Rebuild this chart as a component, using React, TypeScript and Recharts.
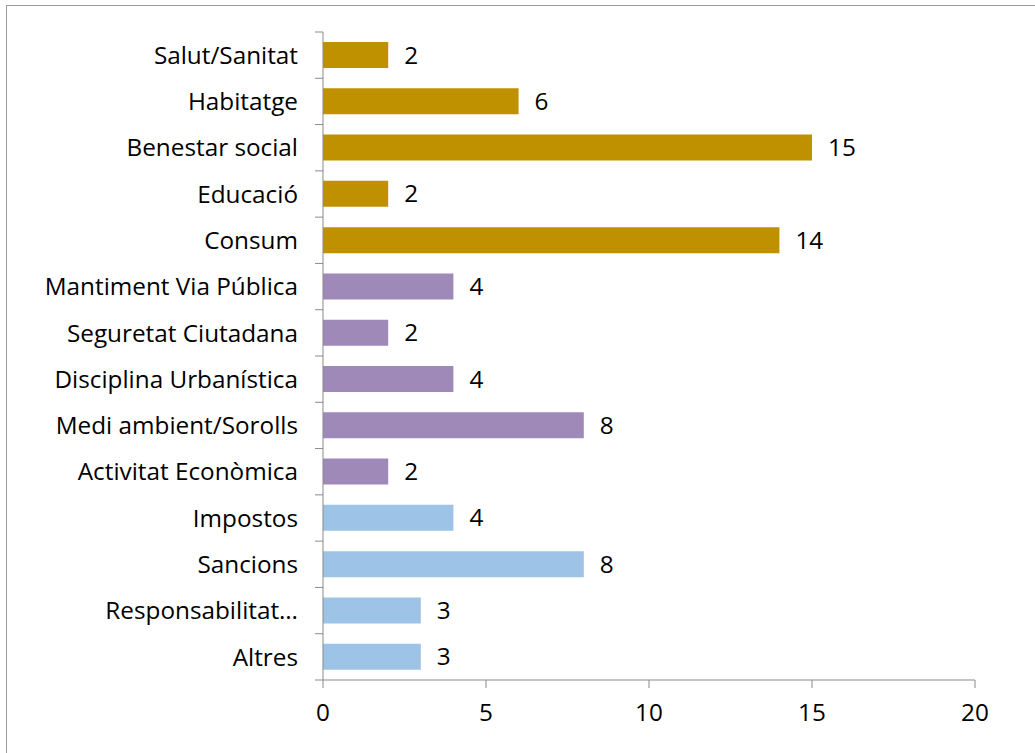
import React from "react";
import { BarChart, Bar, XAxis, YAxis, Cell, LabelList } from "recharts";

const categories = [
  "Salut/Sanitat",
  "Habitatge",
  "Benestar social",
  "Educació",
  "Consum",
  "Mantiment Via Pública",
  "Seguretat Ciutadana",
  "Disciplina Urbanística",
  "Medi ambient/Sorolls",
  "Activitat Econòmica",
  "Impostos",
  "Sancions",
  "Responsabilitat…",
  "Altres",
];
const values = [2, 6, 15, 2, 14, 4, 2, 4, 8, 2, 4, 8, 3, 3];
const groups = [0, 0, 0, 0, 0, 1, 1, 1, 1, 1, 2, 2, 2, 2];
const groupColors = ["#BF9000", "#9F89B9", "#9DC3E6"];
const xTicks = [0, 5, 10, 15, 20];

const data = categories.map((c, i) => ({ name: c, value: values[i], group: groups[i] }));

const FONT = "'Open Sans', sans-serif";
const FS = 24.3;
const AXIS = "#898989";

const YTick = (props: any) => {
  const { y, payload, index } = props;
  const band = 648 / categories.length;
  const ax = 323;
  return (
    <g>
      {index === 0 && <line x1={ax - 8} x2={ax} y1={y - band / 2} y2={y - band / 2} stroke={AXIS} />}
      <line x1={ax - 8} x2={ax} y1={y + band / 2} y2={y + band / 2} stroke={AXIS} />
      <text x={ax - 25} y={y} dy="0.36em" textAnchor="end" fontFamily={FONT} fontSize={FS} fill="#000">
        {payload.value}
      </text>
    </g>
  );
};

export default function App() {
  return (
    <div style={{ position: "absolute", left: 0, top: 0, width: 1035, height: 753, background: "#fff", overflow: "hidden" }}>
      <div style={{ position: "absolute", left: 6, top: 5, width: 1100, height: 800, borderTop: "1px solid #9a9a9a", borderLeft: "1px solid #9a9a9a", boxSizing: "border-box" }} />
      <div style={{ position: "absolute", left: 0, top: 0 }}>
        <BarChart
          width={1035}
          height={753}
          data={data}
          layout="vertical"
          margin={{ top: 32, right: 60, bottom: 0, left: 0 }}
          barSize={26}
        >
          <XAxis
            type="number"
            domain={[0, 20]}
            ticks={xTicks}
            interval={0}
            height={73}
            axisLine={{ stroke: AXIS }}
            tickLine={{ stroke: AXIS }}
            tickSize={8}
            tickMargin={16}
            tick={{ fill: "#000", fontSize: FS, fontFamily: FONT }}
          />
          <YAxis
            type="category"
            dataKey="name"
            width={323}
            axisLine={{ stroke: AXIS }}
            tickLine={false}
            interval={0}
            tick={<YTick />}
          />
          <Bar dataKey="value" isAnimationActive={false}>
            {data.map((d, i) => (
              <Cell key={i} fill={groupColors[d.group]} />
            ))}
            <LabelList dataKey="value" position="right" offset={16} fill="#000" fontSize={FS} fontFamily={FONT} />
          </Bar>
        </BarChart>
      </div>
    </div>
  );
}
